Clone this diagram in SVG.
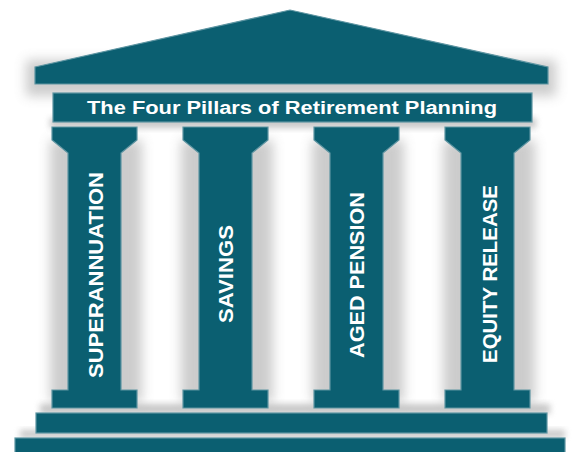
<svg xmlns="http://www.w3.org/2000/svg" width="576" height="452" viewBox="0 0 576 452">
  <defs>
    <filter id="soft" x="-50%" y="-50%" width="200%" height="200%">
      <feGaussianBlur stdDeviation="6"/>
    </filter>
    <filter id="softSmall" x="-50%" y="-50%" width="200%" height="200%">
      <feGaussianBlur stdDeviation="3"/>
    </filter>
    <style>
      .stone { fill: #0b5f71; stroke: #5e95a2; stroke-width: 1.2; }
      .shade { fill: #8f8f8f; opacity: 0.45; filter: url(#soft); }
      .shadeThin { fill: #9a9a9a; opacity: 0.55; filter: url(#softSmall); }
      .label { font-family: "Liberation Sans", Arial, sans-serif; font-weight: bold; fill: #ffffff; }
      .pillarText { font-size: 21px; text-anchor: middle; dominant-baseline: central; }
    </style>
  </defs>

  <rect width="576" height="452" fill="#ffffff"/>

  <!-- soft shading behind the structure -->
  <g id="shadows">
    <rect class="shade" x="26" y="60" width="530" height="36"/>
    <rect class="shadeThin" x="50" y="118" width="486" height="10"/>
    <rect class="shade" x="50" y="140" width="92" height="262"/>
    <rect class="shade" x="181" y="140" width="92" height="262"/>
    <rect class="shade" x="312" y="140" width="92" height="262"/>
    <rect class="shade" x="443" y="140" width="92" height="262"/>
    <rect class="shadeThin" x="40" y="404" width="510" height="10"/>
    <rect class="shadeThin" x="20" y="430" width="545" height="8"/>
  </g>

  <!-- roof / pediment -->
  <g id="roof">
    <path class="stone" d="M35,67 L290,10 L548,67 V84 H35 Z"/>
  </g>

  <!-- entablature with title -->
  <g id="title-band">
    <rect class="stone" x="53" y="93" width="479" height="29"/>
    <text class="label" x="292" y="114" font-size="18" text-anchor="middle" textLength="410" lengthAdjust="spacingAndGlyphs">The Four Pillars of Retirement Planning</text>
  </g>

  <!-- pillars -->
  <g id="pillar-superannuation">
    <path class="stone" d="M52,127 H137 V140 L121,153 V390 H137 V408 H52 V390 H68 V153 L52,140 Z"/>
    <text class="label pillarText" x="95" y="275" transform="rotate(-90 95 275)" textLength="206" lengthAdjust="spacingAndGlyphs">SUPERANNUATION</text>
  </g>

  <g id="pillar-savings">
    <path class="stone" d="M183,127 H268 V140 L252,153 V390 H268 V408 H183 V390 H199 V153 L183,140 Z"/>
    <text class="label pillarText" x="225" y="274" transform="rotate(-90 225 274)" textLength="98" lengthAdjust="spacingAndGlyphs">SAVINGS</text>
  </g>

  <g id="pillar-aged-pension">
    <path class="stone" d="M314,127 H399 V140 L383,153 V390 H399 V408 H314 V390 H330 V153 L314,140 Z"/>
    <text class="label pillarText" x="356" y="275" transform="rotate(-90 356 275)" textLength="166" lengthAdjust="spacingAndGlyphs">AGED PENSION</text>
  </g>

  <g id="pillar-equity-release">
    <path class="stone" d="M445,127 H530 V140 L514,153 V390 H530 V408 H445 V390 H461 V153 L445,140 Z"/>
    <text class="label pillarText" x="489" y="274" transform="rotate(-90 489 274)" textLength="178" lengthAdjust="spacingAndGlyphs">EQUITY RELEASE</text>
  </g>

  <!-- steps -->
  <g id="steps">
    <rect class="stone" x="36" y="413" width="511" height="20"/>
    <rect class="stone" x="15" y="438" width="550" height="16"/>
  </g>
</svg>
